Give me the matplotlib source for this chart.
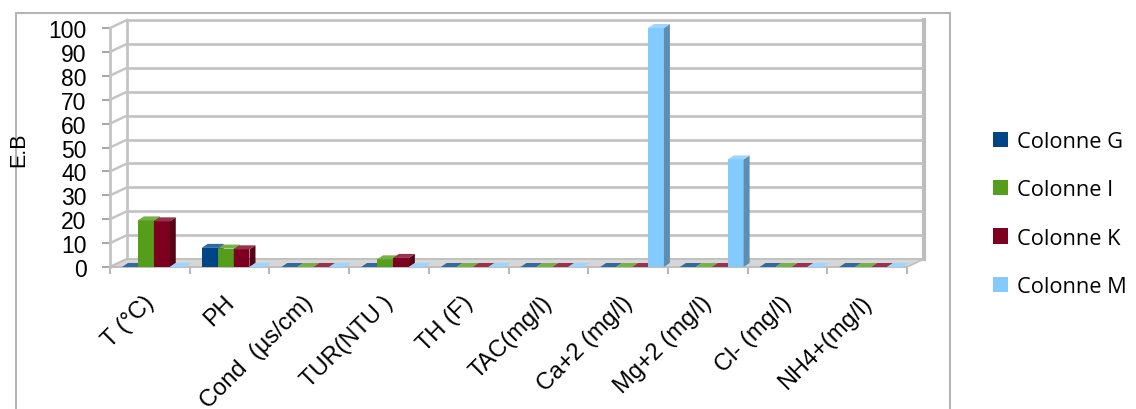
import numpy as np
import matplotlib.pyplot as plt
from matplotlib.patches import Polygon, Rectangle, Patch
from matplotlib.transforms import ScaledTranslation
from matplotlib.colors import to_rgb

plt.rcParams['font.family'] = ['Liberation Sans', 'DejaVu Sans']

# water quality parameters (categories)
params = ['T (°C)', 'PH', 'Cond  (µs/cm)', 'TUR(NTU )', 'TH (F)', 'TAC(mg/l)',
          'Ca+2 (mg/l)', 'Mg+2 (mg/l)', 'Cl- (mg/l)', 'NH4+(mg/l)']

col_g = [0, 8.0, 0, 0, 0, 0, 0, 0, 0, 0]
col_i = [19.5, 7.7, 0, 3.2, 0, 0, 0, 0, 0, 0]
col_k = [19.1, 7.4, 0, 3.8, 0, 0, 0, 0, 0, 0]
col_m = [0, 0, 0, 0, 0, 0, 100, 45, 0, 0]

series_names = ['Colonne G', 'Colonne I', 'Colonne K', 'Colonne M']
series_vals = [col_g, col_i, col_k, col_m]
colors = ['#004586', '#579d1c', '#7e0021', '#83caff']

yticks = np.arange(0, 101, 10)

grid_col = '#c4c4c4'
W, H = 1136, 410


def shade(c, f):
    r = np.array(to_rgb(c))
    return tuple(r * f) if f < 1 else tuple(r + (1 - r) * (f - 1))


fig = plt.figure(figsize=(W / 100, H / 100), dpi=100)
ax = fig.add_axes([110 / W, 1 - 268 / H, 797 / W, 239 / H])
ax.set_xlim(0, len(params))
ax.set_ylim(0, 100)
ax.patch.set_visible(False)

# depth of the wall and of the bars, given in pixels, turned into data units
bb = ax.get_window_extent()
ux = bb.width / len(params)
uy = bb.height / 100
wdx, wdy = 17 / ux, 8 / uy
bdx, bdy = 6 / ux, 4 / uy

n = len(params)
# back wall grid
for v in yticks:
    ax.plot([wdx, n + wdx], [v + wdy, v + wdy], color=grid_col, lw=2,
            clip_on=False, zorder=1)
    # side wall lines
    ax.plot([0, wdx], [v, v + wdy], color=grid_col, lw=1.8, clip_on=False, zorder=1)
ax.plot([wdx, wdx], [wdy, 100 + wdy], color=grid_col, lw=2, clip_on=False, zorder=1)
ax.plot([n + wdx, n + wdx], [wdy, 100 + wdy], color='#bdbdbd', lw=3,
        clip_on=False, zorder=1)

# floor
floor = Polygon([(0, 0), (n, 0), (n + wdx, wdy), (wdx, wdy)], closed=True,
                facecolor='#d6d6d6', edgecolor='#bfbfbf', lw=1.2,
                clip_on=False, zorder=2)
ax.add_patch(floor)

# bars with side and top faces
width = 0.2
x = np.arange(n)
z = 3
for i in range(n):
    for j, (vals, c) in enumerate(zip(series_vals, colors)):
        v = vals[i]
        x0 = x[i] + 0.15 + j * width
        ax.bar(x0, v, width, align='edge', color=c, lw=0,
               clip_on=False, zorder=z)
        side = Polygon([(x0 + width, 0), (x0 + width + bdx, bdy),
                        (x0 + width + bdx, v + bdy), (x0 + width, v)],
                       closed=True, facecolor=shade(c, 0.7), lw=0,
                       clip_on=False, zorder=z)
        top = Polygon([(x0, v), (x0 + width, v), (x0 + width + bdx, v + bdy),
                       (x0 + bdx, v + bdy)], closed=True,
                      facecolor=shade(c, 1.2), lw=0, clip_on=False, zorder=z)
        ax.add_patch(side)
        ax.add_patch(top)
        z += 0.01

# axes
for s in ['top', 'right']:
    ax.spines[s].set_visible(False)
ax.spines['left'].set_color(grid_col)
ax.spines['left'].set_linewidth(2)
ax.spines['bottom'].set_color('#bfbfbf')
ax.spines['bottom'].set_linewidth(1.2)

ax.set_yticks(yticks)
ax.tick_params(axis='y', length=5.8, width=1.5, color='#a8a8a8', pad=11,
               labelsize=16.5)

ax.set_xticks(np.arange(n + 1))
ax.set_xticklabels([])
ax.tick_params(axis='x', which='major', length=5, width=1.2, color='#a8a8a8')
ax.set_xticks(x + 0.5, minor=True)
ax.set_xticklabels(params, minor=True, rotation=45, ha='right', va='center',
                   rotation_mode='anchor', fontsize=17)
ax.tick_params(axis='x', which='minor', length=0, pad=23)
off = ScaledTranslation(0.01, 0, fig.dpi_scale_trans)
for lab in ax.get_xticklabels(minor=True):
    lab.set_transform(lab.get_transform() + off)

fig.text(19 / W, 1 - 150 / H, 'E.B', rotation=90, ha='center', va='center',
         fontsize=15.5)

# outer frame
fig.add_artist(Rectangle((16 / W, -0.2), (950 - 16) / W, 1.2 - 14 / H,
                         transform=fig.transFigure, fill=False,
                         edgecolor='#b4b4b4', lw=1.5))

handles = [Patch(facecolor=c, edgecolor='none') for c in colors]
fig.legend(handles, series_names, loc='center left',
           bbox_to_anchor=(993 / W, 1 - 215 / H), frameon=False,
           prop={'family': 'Open Sans', 'size': 15.7}, borderpad=0,
           borderaxespad=0, handlelength=0.7, handleheight=0.7,
           handletextpad=0.4, labelspacing=1.25)

fig.savefig('out.png', dpi=100)
